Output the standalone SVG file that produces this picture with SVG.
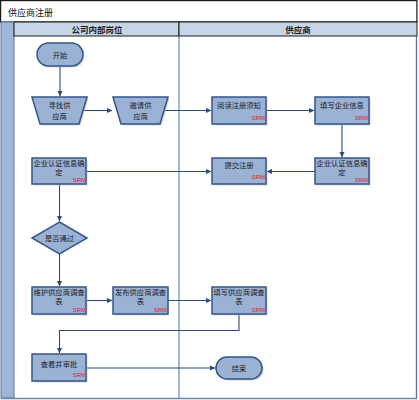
<svg xmlns="http://www.w3.org/2000/svg" width="419" height="400" viewBox="0 0 419 400">
<defs>
<marker id="arr" markerWidth="6" markerHeight="6" refX="5" refY="3" orient="auto" markerUnits="userSpaceOnUse">
<path d="M0,0.5 L5.5,3 L0,5.5 Z" fill="#2b4a7e"/>
</marker>
</defs>
<style>
.node{fill:#9bb2d5;stroke:#345689;stroke-width:1.5}
.shadow{fill:#b8b8b8;opacity:0.6}
.t{font-family:"Noto Sans CJK SC","Noto Sans",sans-serif;font-size:7.3px;fill:#1c1c1c;text-anchor:middle}
.srm{font-family:"Liberation Sans",Arial,sans-serif;font-size:6px;fill:#e0202a;text-anchor:end}
.conn{fill:none;stroke:#2b4a7e;stroke-width:1.1}
.hdr{fill:#c7d5e8;stroke:#1a1a1a;stroke-width:1}
.ht{font-family:"Noto Sans CJK SC","Noto Sans",sans-serif;font-size:8.5px;font-weight:bold;fill:#1a1a1a;text-anchor:middle}
</style>
<rect x="0" y="0" width="419" height="400" fill="#ffffff"/>
<g id="frame">
<rect x="0.6" y="0.6" width="416.3" height="21.4" fill="#ffffff" stroke="#1a1a1a" stroke-width="1.2"/>
<text x="8" y="15.5" font-family="Noto Sans CJK SC,sans-serif" font-size="9" fill="#111">供应商注册</text>
<rect x="1" y="22" width="13" height="376" fill="#9fb6d8" stroke="#5a77a3" stroke-width="1"/>
<rect class="hdr" x="14" y="22" width="165" height="14"/>
<rect class="hdr" x="179" y="22" width="238" height="14"/>
<text class="ht" x="97" y="32.5">公司内部岗位</text>
<text class="ht" x="298" y="32.5">供应商</text>
<line x1="179" y1="36" x2="179" y2="398" stroke="#4a6a9c" stroke-width="1"/>
<line x1="416.5" y1="36" x2="416.5" y2="399" stroke="#5a79a8" stroke-width="1.4"/>
<line x1="1" y1="398.5" x2="417" y2="398.5" stroke="#6c84a8" stroke-width="1.4"/>
</g>
<g id="connectors">
<path class="conn" d="M60,66 V96" marker-end="url(#arr)"/>
<path class="conn" d="M81,110.5 H112" marker-end="url(#arr)"/>
<path class="conn" d="M162,110.5 H211" marker-end="url(#arr)"/>
<path class="conn" d="M266,110.5 H314" marker-end="url(#arr)"/>
<path class="conn" d="M342,124 V157" marker-end="url(#arr)"/>
<path class="conn" d="M315,171.5 H267" marker-end="url(#arr)"/>
<path class="conn" d="M87,171.5 H211" marker-end="url(#arr)"/>
<path class="conn" d="M59.5,184 V221" marker-end="url(#arr)"/>
<path class="conn" d="M59.5,254 V286" marker-end="url(#arr)"/>
<path class="conn" d="M87,300.5 H112" marker-end="url(#arr)"/>
<path class="conn" d="M168,300.5 H211" marker-end="url(#arr)"/>
<path class="conn" d="M239,314 V330.5 H59.5 V353" marker-end="url(#arr)"/>
<path class="conn" d="M87,368 H215" marker-end="url(#arr)"/>
</g>
<g id="start">
<rect class="shadow" x="38.5" y="44.5" width="46" height="23" rx="11.5"/>
<rect class="node" x="37" y="43" width="46" height="23" rx="11.5"/>
<text class="t" x="60" y="57.5">开始</text>
</g>
<g id="find">
<path class="shadow" d="M33.5,98.5 H88.5 L80.5,125.5 H41.5 Z"/>
<path class="node" d="M32,97 H87 L79,124 H40 Z"/>
<text class="t" x="59.5" y="108">寻找供</text>
<text class="t" x="59.5" y="118.5">应商</text>
</g>
<g id="invite">
<path class="shadow" d="M114.5,98.5 H169.5 L161.5,125.5 H122.5 Z"/>
<path class="node" d="M113,97 H168 L160,124 H121 Z"/>
<text class="t" x="140.5" y="108">邀请供</text>
<text class="t" x="140.5" y="118.5">应商</text>
</g>
<g id="read">
<rect class="shadow" x="213.5" y="98.5" width="54" height="27"/>
<rect class="node" x="212" y="97" width="54" height="27"/>
<text class="t" x="239" y="108">阅读注册须知</text>
<text class="srm" x="265" y="119.5">SRM</text>
</g>
<g id="fillinfo">
<rect class="shadow" x="316.5" y="98.5" width="54" height="27"/>
<rect class="node" x="315" y="97" width="54" height="27"/>
<text class="t" x="342" y="108">填写企业信息</text>
<text class="srm" x="368" y="119.5">SRM</text>
</g>
<g id="confirmR">
<rect class="shadow" x="316.5" y="159.5" width="54" height="26"/>
<rect class="node" x="315" y="158" width="54" height="26"/>
<text class="t" x="342" y="165.5">企业认证信息确</text>
<text class="t" x="342" y="175">定</text>
<text class="srm" x="368" y="182">SRM</text>
</g>
<g id="submit">
<rect class="shadow" x="213.5" y="159.5" width="54" height="26"/>
<rect class="node" x="212" y="158" width="54" height="26"/>
<text class="t" x="239" y="168">提交注册</text>
<text class="srm" x="265" y="178.5">SRM</text>
</g>
<g id="confirmL">
<rect class="shadow" x="33.5" y="159.5" width="54" height="26"/>
<rect class="node" x="32" y="158" width="54" height="26"/>
<text class="t" x="59" y="165.5">企业认证信息确</text>
<text class="t" x="59" y="175">定</text>
<text class="srm" x="86" y="182">SRM</text>
</g>
<g id="pass">
<path class="node" d="M59.5,222 L87,238 L59.5,254 L32,238 Z"/>
<text class="t" x="59.5" y="241">是否通过</text>
</g>
<g id="maintain">
<rect class="shadow" x="33.5" y="288.5" width="54" height="27"/>
<rect class="node" x="32" y="287" width="54" height="27"/>
<text class="t" x="59" y="294.5">维护供应商调查</text>
<text class="t" x="59" y="304">表</text>
<text class="srm" x="86" y="311.5">SRM</text>
</g>
<g id="publish">
<rect class="shadow" x="114.5" y="288.5" width="54" height="27"/>
<rect class="node" x="113" y="287" width="55" height="27"/>
<text class="t" x="140.5" y="294.5">发布供应商调查</text>
<text class="t" x="140.5" y="304">表</text>
<text class="srm" x="167" y="311.5">SRM</text>
</g>
<g id="fillsurvey">
<rect class="shadow" x="213.5" y="288.5" width="54" height="27"/>
<rect class="node" x="212" y="287" width="54" height="27"/>
<text class="t" x="239" y="294.5">填写供应商调查</text>
<text class="t" x="239" y="304">表</text>
<text class="srm" x="265" y="311.5">SRM</text>
</g>
<g id="review">
<rect class="shadow" x="33.5" y="355.5" width="54" height="27"/>
<rect class="node" x="32" y="354" width="54" height="27"/>
<text class="t" x="59" y="367">查看并审批</text>
<text class="srm" x="86" y="377">SRM</text>
</g>
<g id="end">
<rect class="shadow" x="217.5" y="358.5" width="46" height="22" rx="11"/>
<rect class="node" x="216" y="357" width="46" height="22" rx="11"/>
<text class="t" x="239" y="370.5">结束</text>
</g>
</svg>
